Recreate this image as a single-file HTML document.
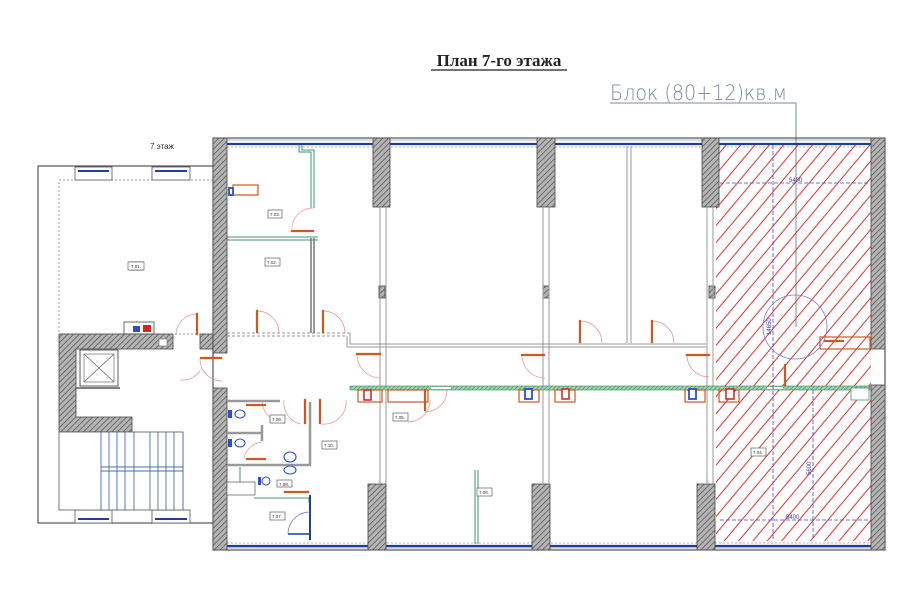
<!DOCTYPE html>
<html><head><meta charset="utf-8"><style>
html,body{margin:0;padding:0;background:#fff}
svg{display:block}
</style></head><body>
<svg width="905" height="600" viewBox="0 0 905 600" xmlns="http://www.w3.org/2000/svg">
<defs>
<pattern id="hatch" width="4" height="4" patternUnits="userSpaceOnUse" patternTransform="rotate(45)">
<rect width="4" height="4" fill="#b5b5b5"/><line x1="0" y1="0" x2="0" y2="4" stroke="#4a4a4a" stroke-width="1.4"/></pattern>
<pattern id="red" width="11" height="11" patternUnits="userSpaceOnUse" patternTransform="rotate(40)">
<line x1="0" y1="0" x2="0" y2="11" stroke="#e8302c" stroke-width="2" stroke-dasharray="14 2"/></pattern>
<pattern id="ghatch" width="3" height="3" patternUnits="userSpaceOnUse" patternTransform="rotate(45)">
<rect width="3" height="3" fill="#9fd0b0"/><line x1="0" y1="0" x2="0" y2="3" stroke="#3c8a5a" stroke-width="1"/></pattern>
</defs>

<text x="499" y="66" text-anchor="middle" font-family="Liberation Serif,serif" font-weight="bold" font-size="17" fill="#222">План 7-го этажа</text>
<line x1="431" y1="70" x2="567" y2="70" stroke="#222" stroke-width="1.2"/>

<text x="610" y="100" font-family="DejaVu Sans,sans-serif" font-weight="200" font-size="21" fill="#7d8aa3" textLength="177" lengthAdjust="spacingAndGlyphs">Блок (80+12)кв.м</text>
<polyline points="610,103 796,103 796,327" fill="none" stroke="#7d8aa3" stroke-width="1"/>

<text x="150" y="149" font-family="Liberation Sans,sans-serif" font-size="8" fill="#333">7 этаж</text>

<rect x="38" y="166" width="175" height="357" fill="none" stroke="#333" stroke-width="1"/>
<rect x="59" y="180" width="154" height="154" fill="none" stroke="#999" stroke-width="1" stroke-dasharray="2 2"/>
<g fill="#fff" stroke="#555" stroke-width="0.8">
<rect x="75" y="167" width="37" height="13"/><rect x="152" y="167" width="38" height="13"/>
<rect x="75" y="510" width="37" height="13"/><rect x="152" y="510" width="38" height="13"/>
</g>
<g stroke="#1a3fa0" stroke-width="2"><line x1="78" y1="171" x2="109" y2="171"/><line x1="155" y1="171" x2="187" y2="171"/>
<line x1="78" y1="519" x2="109" y2="519"/><line x1="155" y1="519" x2="187" y2="519"/></g>
<rect x="130" y="262" width="13" height="8" fill="#fff" stroke="#555" stroke-width="0.7"/>
<rect x="124" y="322" width="30" height="12" fill="#fff" stroke="#444" stroke-width="0.8"/>
<rect x="133" y="326" width="7" height="6" fill="#2a4fd0"/><rect x="143" y="325" width="8" height="7" fill="#e02020"/>

<g fill="url(#hatch)" stroke="#444" stroke-width="0.8">
<path d="M59,334 H173 V349 H76 V417 H132 V432 H59 Z"/>
<rect x="200" y="334" width="13" height="15"/>
</g>
<rect x="80" y="350" width="38" height="36" fill="#fff" stroke="#333" stroke-width="0.8"/>
<rect x="84" y="354" width="30" height="28" fill="none" stroke="#555" stroke-width="0.6"/>
<line x1="84" y1="354" x2="114" y2="382" stroke="#555" stroke-width="0.6"/><line x1="114" y1="354" x2="84" y2="382" stroke="#555" stroke-width="0.6"/>
<line x1="76" y1="388" x2="120" y2="388" stroke="#555" stroke-width="1.5"/>
<rect x="159" y="339" width="8" height="7" fill="#fff" stroke="#666" stroke-width="0.6"/>
<rect x="59" y="432" width="124" height="78" fill="#fff" stroke="#555" stroke-width="0.8"/>
<g stroke="#4a6fa0" stroke-width="0.9">
<line x1="101" y1="432" x2="101" y2="510"/><line x1="101" y1="467" x2="183" y2="467"/><line x1="101" y1="471" x2="183" y2="471"/>
<line x1="109" y1="432" x2="109" y2="510"/><line x1="117" y1="432" x2="117" y2="510"/><line x1="125" y1="432" x2="125" y2="510"/>
<line x1="134" y1="432" x2="134" y2="510"/><line x1="150" y1="432" x2="150" y2="510"/><line x1="158" y1="432" x2="158" y2="510"/>
<line x1="166" y1="432" x2="166" y2="510"/><line x1="174" y1="432" x2="174" y2="510"/><line x1="183" y1="432" x2="183" y2="510"/>
</g>

<rect x="213" y="138" width="672" height="412" fill="none" stroke="#333" stroke-width="1"/>
<rect x="716" y="145" width="155" height="396" fill="url(#red)"/>
<g stroke="#1a3fa0" stroke-width="2.2">
<line x1="227" y1="144" x2="373" y2="144"/><line x1="390" y1="144" x2="537" y2="144"/><line x1="555" y1="144" x2="702" y2="144"/><line x1="719" y1="144" x2="871" y2="144"/>
<line x1="227" y1="546" x2="368" y2="546"/><line x1="386" y1="546" x2="532" y2="546"/><line x1="550" y1="546" x2="697" y2="546"/><line x1="715" y1="546" x2="871" y2="546"/>
</g>
<g stroke="#666" stroke-width="0.6">
<line x1="227" y1="140" x2="871" y2="140"/><line x1="227" y1="548" x2="871" y2="548"/>
<line x1="227" y1="147" x2="871" y2="147" stroke-dasharray="2 2"/><line x1="227" y1="543" x2="871" y2="543" stroke-dasharray="2 2"/>
</g>

<g fill="url(#hatch)" stroke="#444" stroke-width="0.8">
<rect x="213" y="138" width="14" height="215"/><rect x="213" y="388" width="14" height="162"/>
<rect x="373" y="138" width="17" height="69"/><rect x="537" y="138" width="18" height="69"/><rect x="702" y="138" width="17" height="69"/>
<rect x="871" y="138" width="14" height="211"/><rect x="871" y="385" width="14" height="165"/>
<rect x="368" y="484" width="18" height="66"/><rect x="532" y="484" width="18" height="66"/><rect x="697" y="484" width="18" height="66"/>
<rect x="379" y="286" width="6" height="12"/><rect x="543" y="286" width="6" height="12"/><rect x="709" y="286" width="6" height="12"/>
</g>

<g stroke="#999" stroke-width="1" fill="none">
<line x1="380" y1="207" x2="380" y2="484"/><line x1="386" y1="207" x2="386" y2="484"/>
<line x1="543" y1="207" x2="543" y2="484"/><line x1="549" y1="207" x2="549" y2="484"/>
<line x1="707" y1="207" x2="707" y2="484"/><line x1="713" y1="207" x2="713" y2="484"/>
<line x1="627" y1="146" x2="627" y2="343"/><line x1="631" y1="146" x2="631" y2="343"/>
<line x1="227" y1="333" x2="347" y2="333" stroke-dasharray="3 2"/><line x1="227" y1="336" x2="347" y2="336" stroke-dasharray="3 2"/>
<polyline points="347,333 350,333 350,344 706,344"/><polyline points="347,336 347,347 706,347"/>
</g>
<line x1="311" y1="238" x2="311" y2="333" stroke="#333" stroke-width="1"/><line x1="314" y1="238" x2="314" y2="333" stroke="#333" stroke-width="1"/>
<g stroke="#3a9a70" stroke-width="1" fill="none">
<polyline points="227,237 318,237"/><polyline points="227,240 318,240"/>
<polyline points="299,145 299,152 311,152 311,208"/><polyline points="302,145 302,150 314,150 314,208"/>
<line x1="475" y1="470" x2="475" y2="544"/><line x1="478" y1="470" x2="478" y2="544"/>
</g>

<rect x="350" y="386" width="520" height="4" fill="url(#ghatch)" stroke="#3c8a5a" stroke-width="0.6"/>
<rect x="431" y="387" width="20" height="2" fill="#fff"/>
<rect x="767" y="387" width="16" height="2" fill="#fff"/>

<g stroke="#999" stroke-width="2.5" fill="none">
<polyline points="227,401 280,401"/><polyline points="227,433 262,433"/><line x1="262" y1="425" x2="262" y2="441"/>
<polyline points="227,465 310,465 310,402"/>
</g>
<g stroke="#3a9a70" stroke-width="1" fill="none"><line x1="240" y1="467" x2="240" y2="490"/><polyline points="254,498 309,498 309,503"/></g>
<rect x="227" y="482" width="28" height="13" fill="#fff" stroke="#555" stroke-width="0.7"/>
<line x1="310" y1="495" x2="310" y2="540" stroke="#1a3fa0" stroke-width="2"/>
<path d="M288,534 A22,22 0 0 1 310,512" fill="none" stroke="#6a7fd0" stroke-width="0.7"/><line x1="288" y1="534" x2="310" y2="534" stroke="#1a3fa0" stroke-width="1.6"/>
<g fill="#fff" stroke="#2a4fd0" stroke-width="1.1">
<ellipse cx="240" cy="414" rx="5" ry="4"/><ellipse cx="240" cy="443" rx="5" ry="4"/><ellipse cx="290" cy="457" rx="6" ry="5"/><ellipse cx="290" cy="470" rx="6" ry="4"/><ellipse cx="266" cy="481" rx="4" ry="4"/>
</g>
<g fill="#2a4fd0"><rect x="228" y="410" width="4" height="8"/><rect x="228" y="439" width="4" height="8"/><rect x="258" y="477" width="3" height="8"/></g>

<g fill="none" stroke="#e89090" stroke-width="0.7">
<path d="M313,208 A21,21 0 0 0 292,229"/>
<path d="M257,311 A22,22 0 0 1 279,333"/><path d="M323,311 A22,22 0 0 1 345,333"/><path d="M197,314 A21,21 0 0 0 176,335"/>
<path d="M200,359 A22,22 0 0 0 222,381"/><path d="M357,354 A24,24 0 0 0 381,378"/>
<path d="M580,321 A22,22 0 0 1 602,343"/><path d="M652,321 A22,22 0 0 1 674,343"/>
<path d="M522,355 A23,23 0 0 0 545,378"/><path d="M687,355 A22,22 0 0 0 709,377"/>
<path d="M262,400 A23,23 0 0 0 285,423"/><path d="M284,400 A22,22 0 0 0 300,424"/><path d="M322,424 A22,22 0 0 0 346,400"/>
<path d="M262,442 A21,21 0 0 0 244,458"/><path d="M430,400 A22,22 0 0 1 408,422"/>
<path d="M447,390 A22,22 0 0 1 425,412"/><path d="M200,371 A22,22 0 0 1 180,380"/>
</g>
<g stroke="#d0581e" stroke-width="2.2" fill="none" stroke-linecap="square">
<polyline points="292,231 313,231"/><line x1="257" y1="311" x2="257" y2="332"/><line x1="323" y1="311" x2="323" y2="332"/><line x1="197" y1="314" x2="197" y2="334"/>
<line x1="201" y1="358" x2="221" y2="358"/><line x1="357" y1="354" x2="380" y2="354"/>
<line x1="580" y1="321" x2="580" y2="342"/><line x1="652" y1="321" x2="652" y2="342"/>
<line x1="522" y1="355" x2="544" y2="355"/><line x1="687" y1="355" x2="709" y2="355"/>
<line x1="247" y1="405" x2="265" y2="405"/><line x1="247" y1="459" x2="265" y2="459"/><line x1="305" y1="400" x2="305" y2="423"/><line x1="320" y1="400" x2="320" y2="423"/>
<line x1="285" y1="492" x2="308" y2="492"/><line x1="425" y1="390" x2="425" y2="410"/><line x1="825" y1="341" x2="843" y2="341"/><line x1="785" y1="365" x2="785" y2="385"/>
</g>
<g stroke="#d0581e" stroke-width="1.2" fill="none">
<rect x="358" y="390" width="24" height="12"/><rect x="388" y="390" width="40" height="12"/>
<rect x="519" y="390" width="20" height="12"/><rect x="555" y="390" width="20" height="12"/>
<rect x="685" y="390" width="20" height="12"/><rect x="719" y="390" width="20" height="12"/>
<rect x="820" y="337" width="50" height="12"/><rect x="233" y="185" width="25" height="10"/>
</g>
<g fill="#fff" stroke="#2a4fd0" stroke-width="1.8"><rect x="525" y="389" width="7" height="10"/><rect x="689" y="389" width="7" height="10"/><rect x="229" y="188" width="4" height="7"/></g>
<g fill="#fff" stroke="#d02020" stroke-width="1.5"><rect x="562" y="389" width="7" height="10"/><rect x="726" y="389" width="8" height="10"/><rect x="364" y="390" width="7" height="10"/></g>
<rect x="851" y="388" width="18" height="12" fill="#fff" stroke="#3a9a70" stroke-width="0.8"/>

<g fill="#fff" stroke="#444" stroke-width="0.6">
<rect x="128" y="262" width="16" height="8"/><rect x="268" y="210" width="14" height="8"/><rect x="265" y="258" width="15" height="8"/>
<rect x="270" y="415" width="15" height="8"/><rect x="322" y="441" width="15" height="8"/><rect x="277" y="480" width="15" height="7"/>
<rect x="270" y="512" width="15" height="8"/><rect x="393" y="413" width="15" height="8"/><rect x="477" y="488" width="15" height="8"/>
<rect x="751" y="448" width="15" height="8"/>
</g>
<g font-family="Liberation Sans,sans-serif" font-size="4.5" fill="#333" text-anchor="middle">
<text x="136" y="268">7.01.</text><text x="275" y="216">7.03.</text><text x="272" y="264">7.02.</text>
<text x="277" y="421">7.09.</text><text x="329" y="447">7.10.</text><text x="284" y="486">7.08.</text>
<text x="277" y="518">7.07.</text><text x="400" y="419">7.05.</text><text x="484" y="494">7.06.</text><text x="758" y="454">7.04.</text>
</g>

<g stroke="#3a4fd0" stroke-width="0.8" fill="none" stroke-dasharray="4 2">
<line x1="720" y1="183" x2="870" y2="183"/><line x1="773" y1="145" x2="773" y2="540"/>
<line x1="720" y1="520" x2="870" y2="520"/><line x1="813" y1="390" x2="813" y2="540"/>
</g>
<circle cx="795" cy="327" r="32" fill="none" stroke="#6a7fd0" stroke-width="0.8"/>
<g font-family="Liberation Sans,sans-serif" font-size="6" fill="#2a3fb0">
<text x="789" y="182">5400</text><text x="786" y="519">5400</text>
<text transform="translate(771,335) rotate(-90)">14650</text><text transform="translate(811,475) rotate(-90)">5600</text>
</g>
</svg>
</body></html>
